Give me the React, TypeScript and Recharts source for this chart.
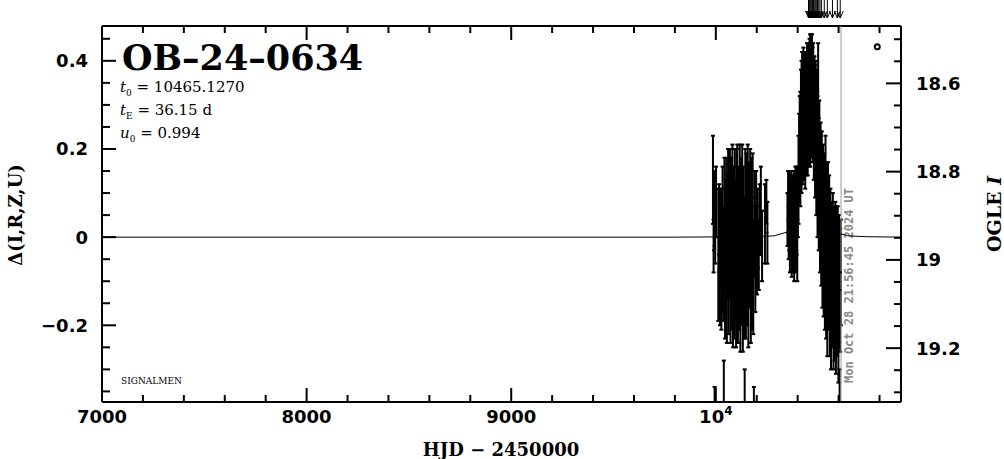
import {
  ComposedChart,
  ErrorBar,
  ReferenceDot,
  ReferenceLine,
  Scatter,
  XAxis,
  YAxis,
} from 'recharts'

const WIDTH = 1004
const HEIGHT = 459
const PLOT_TOP = 26
const PLOT_BOTTOM = 402
const PLOT_H = PLOT_BOTTOM - PLOT_TOP

const X_DOMAIN: [number, number] = [7000, 10905]
const Y_DOMAIN: [number, number] = [-0.374, 0.479]
const I_DOMAIN: [number, number] = [18.47, 19.322]

const X_TICKS = [
  7000, 7200, 7400, 7600, 7800, 8000, 8200, 8400, 8600, 8800, 9000, 9200, 9400,
  9600, 9800, 10000, 10200, 10400, 10600, 10800,
]
const X_MAJOR = [7000, 8000, 9000, 10000]

const Y_TICKS = [
  -0.35, -0.3, -0.25, -0.2, -0.15, -0.1, -0.05, 0, 0.05, 0.1, 0.15, 0.2, 0.25,
  0.3, 0.35, 0.4, 0.45,
]
const Y_MAJOR = [-0.2, 0, 0.2, 0.4]

const I_TICKS = [
  18.5, 18.55, 18.6, 18.65, 18.7, 18.75, 18.8, 18.85, 18.9, 18.95, 19, 19.05,
  19.1, 19.15, 19.2, 19.25, 19.3,
]
const I_MAJOR = [18.6, 18.8, 19, 19.2]

// [HJD-2450000, delta mag, error]
const season2023: [number, number, number][] = [
  [9986, 0.13, 0.1], [9989, -0.02, 0.06], [9991, 0.06, 0.09], [9994, -0.48, 0.14],
  [9997, 0.01, 0.07], [10001, 0.08, 0.08], [10012, -0.04, 0.15], [10016, 0.02, 0.1],
  [10020, -0.08, 0.12], [10024, 0.0, 0.11], [10027, -0.1, 0.11], [10030, -0.03, 0.14],
  [10033, 0.04, 0.12], [10036, -0.06, 0.13], [10039, -0.45, 0.17], [10042, 0.05, 0.13],
  [10045, -0.09, 0.14], [10048, -0.02, 0.15], [10051, 0.06, 0.12], [10054, -0.12, 0.12],
  [10057, 0.0, 0.14], [10060, 0.07, 0.13], [10063, -0.07, 0.15], [10066, -0.01, 0.13],
  [10069, 0.08, 0.12], [10072, -0.11, 0.13], [10075, 0.03, 0.15], [10078, -0.05, 0.16],
  [10081, 0.09, 0.12], [10084, -0.13, 0.12], [10087, 0.02, 0.14], [10090, -0.08, 0.15],
  [10093, 0.07, 0.13], [10096, -0.03, 0.16], [10099, -0.12, 0.13], [10102, 0.05, 0.15],
  [10105, 0.08, 0.13], [10108, -0.1, 0.14], [10111, 0.0, 0.16], [10114, -0.06, 0.15],
  [10117, 0.09, 0.12], [10120, -0.13, 0.13], [10123, 0.04, 0.14], [10126, -0.04, 0.16],
  [10129, 0.08, 0.13], [10132, -0.11, 0.15], [10135, 0.01, 0.15], [10138, -0.07, 0.16],
  [10141, -0.5, 0.2], [10144, 0.06, 0.14], [10147, -0.09, 0.14], [10150, 0.03, 0.16],
  [10153, -0.05, 0.15], [10156, 0.09, 0.12], [10159, -0.12, 0.13], [10162, 0.02, 0.15],
  [10165, -0.02, 0.14], [10168, 0.07, 0.13], [10171, -0.1, 0.14], [10174, 0.04, 0.14],
  [10177, -0.06, 0.15], [10180, 0.06, 0.13], [10183, -0.09, 0.13], [10186, -0.55, 0.21],
  [10189, 0.03, 0.12], [10193, -0.05, 0.12], [10197, 0.05, 0.1], [10201, -0.03, 0.1],
  [10205, 0.02, 0.09], [10210, -0.04, 0.08], [10215, 0.04, 0.08], [10220, 0.06, 0.1],
  [10226, -0.02, 0.08], [10240, 0.03, 0.09], [10247, 0.08, 0.05], [10252, 0.01, 0.07],
]

const season2024: [number, number, number][] = [
  [10350, 0.04, 0.06], [10353, 0.08, 0.07], [10356, 0.01, 0.06], [10359, 0.06, 0.09],
  [10362, -0.01, 0.07], [10365, 0.05, 0.08], [10368, 0.09, 0.06], [10371, 0.0, 0.09],
  [10374, 0.06, 0.08], [10377, 0.02, 0.1], [10380, 0.08, 0.07], [10383, -0.02, 0.08],
  [10386, 0.05, 0.09], [10389, 0.1, 0.06], [10392, 0.01, 0.09], [10395, 0.06, 0.1],
  [10398, -0.03, 0.07], [10401, 0.08, 0.08], [10404, 0.13, 0.1], [10407, 0.18, 0.1],
  [10410, 0.22, 0.1], [10413, 0.2, 0.13], [10416, 0.28, 0.1], [10419, 0.25, 0.15],
  [10422, 0.31, 0.11], [10425, 0.27, 0.15], [10428, 0.31, 0.12], [10431, 0.27, 0.14],
  [10434, 0.31, 0.11], [10437, 0.26, 0.15], [10440, 0.32, 0.1], [10443, 0.28, 0.14],
  [10446, 0.33, 0.11], [10449, 0.29, 0.15], [10452, 0.34, 0.1], [10455, 0.3, 0.14],
  [10458, 0.35, 0.1], [10461, 0.31, 0.15], [10464, 0.36, 0.1], [10467, 0.32, 0.14],
  [10470, 0.35, 0.11], [10473, 0.3, 0.13], [10476, 0.34, 0.1], [10479, 0.27, 0.14],
  [10482, 0.31, 0.1], [10485, 0.24, 0.15], [10488, 0.28, 0.12], [10491, 0.2, 0.15],
  [10494, 0.25, 0.13], [10497, 0.16, 0.16], [10500, 0.33, 0.11], [10503, 0.12, 0.15],
  [10506, 0.18, 0.13], [10509, 0.08, 0.16], [10512, 0.14, 0.12], [10515, 0.04, 0.15],
  [10518, 0.12, 0.12], [10521, 0.0, 0.16], [10524, 0.08, 0.13], [10527, -0.03, 0.15],
  [10530, 0.05, 0.14], [10533, -0.05, 0.16], [10536, 0.1, 0.13], [10539, -0.08, 0.15],
  [10542, 0.02, 0.15], [10545, -0.1, 0.17], [10548, 0.05, 0.12], [10551, -0.07, 0.14],
  [10554, -0.01, 0.15], [10557, -0.12, 0.15], [10560, -0.03, 0.14], [10563, -0.14, 0.16],
  [10566, -0.05, 0.13], [10569, -0.1, 0.15], [10572, -0.02, 0.12], [10575, -0.15, 0.15],
  [10578, -0.07, 0.14], [10581, -0.12, 0.16], [10584, -0.04, 0.12], [10587, -0.16, 0.15],
  [10590, -0.09, 0.16], [10593, -0.13, 0.14], [10596, -0.06, 0.13], [10599, -0.17, 0.16],
  [10602, -0.1, 0.15], [10605, -0.5, 0.2], [10608, -0.12, 0.14], [10611, -0.08, 0.12],
]

// model curve
const modelCurve: [number, number][] = [
  [7000, 0], [9800, 0], [10200, 0.001], [10285, 0.003], [10345, 0.011],
  [10375, 0.026], [10405, 0.07], [10420, 0.118], [10435, 0.19], [10445, 0.25],
  [10455, 0.3], [10465, 0.322], [10475, 0.3], [10485, 0.25], [10495, 0.19],
  [10510, 0.118], [10525, 0.07], [10555, 0.026], [10585, 0.011], [10645, 0.003],
  [10730, 0.001], [10905, 0],
]

const alertTimes = [
  10453, 10457, 10461, 10465, 10469, 10473, 10477, 10481, 10486, 10491, 10497,
  10503, 10509, 10516, 10530, 10545, 10570, 10594, 10608,
]

const NOW_HJD = 10612
const OGLE_MARK: [number, number] = [10789, 0.432]

// error bars are cut at the frame, like the plot window clips them
const toPoints = (rows: [number, number, number][]) =>
  rows.map(([hjd, delta, err]) => {
    const lo = Math.max(delta - err, Y_DOMAIN[0])
    const hi = Math.min(delta + err, Y_DOMAIN[1])
    return { hjd, delta, err: [delta - lo, hi - delta] }
  })

const modelData = modelCurve.map(([hjd, delta]) => ({ hjd, delta }))

const TICK_FONT = {
  fontFamily: 'DejaVu Sans',
  fontWeight: 'bold' as const,
  fontSize: 18,
  fill: '#000',
}

const near = (a: number, list: number[]) => list.some((b) => Math.abs(a - b) < 1e-6)

const BottomTick = (props: any) => {
  const { x, y, payload } = props
  const v = payload.value
  const major = near(v, X_MAJOR)
  const len = major ? 14 : 7
  return (
    <g>
      <line x1={x} y1={y} x2={x} y2={y - len} stroke="#000" strokeWidth={2} />
      <line x1={x} y1={y - PLOT_H} x2={x} y2={y - PLOT_H + len} stroke="#000" strokeWidth={2} />
      {major && (
        <text x={x} y={y + 21} textAnchor="middle" {...TICK_FONT}>
          {v === 10000 ? (
            <>
              10<tspan fontSize={12} dy={-8}>4</tspan>
            </>
          ) : (
            String(v)
          )}
        </text>
      )}
    </g>
  )
}

const LeftTick = (props: any) => {
  const { x, y, payload } = props
  const v = payload.value
  const major = near(v, Y_MAJOR)
  const len = major ? 14 : 8
  const label = v === 0 ? '0' : v < 0 ? `\u2212${Math.abs(v)}` : String(v)
  return (
    <g>
      <line x1={x} y1={y} x2={x + len} y2={y} stroke="#000" strokeWidth={2} />
      {major && (
        <text x={x - 14} y={y + 6.5} textAnchor="end" {...TICK_FONT}>
          {label}
        </text>
      )}
    </g>
  )
}

const RightTick = (props: any) => {
  const { x, y, payload } = props
  const v = payload.value
  const major = near(v, I_MAJOR)
  const len = major ? 15 : 7
  return (
    <g>
      <line x1={x} y1={y} x2={x - len} y2={y} stroke="#000" strokeWidth={2} />
      {major && (
        <text x={x + 15} y={y + 6.5} textAnchor="start" {...TICK_FONT}>
          {String(v)}
        </text>
      )}
    </g>
  )
}

const Dot = (p: any) =>
  p.payload && p.payload.delta < Y_DOMAIN[0] ? (
    <g />
  ) : (
    <rect x={p.cx - 1} y={p.cy - 1} width={2} height={2} fill="#000" />
  )

const NoDot = () => <g />

const AlertArrow = (p: any) => {
  const x = p.cx
  const tip = p.cy - 8
  return (
    <g>
      <line x1={x} y1={tip - 18} x2={x} y2={tip} stroke="#000" strokeWidth={1} />
      <polyline
        points={`${x - 3},${tip - 7} ${x},${tip} ${x + 3},${tip - 7}`}
        fill="none"
        stroke="#000"
        strokeWidth={1}
      />
    </g>
  )
}

const OgleMark = (p: any) => (
  <circle cx={p.cx} cy={p.cy} r={2.5} fill="none" stroke="#000" strokeWidth={2} />
)

const DateLabel = (props: any) => {
  const vb = props.viewBox || {}
  const x = (vb.x ?? 0) + 12
  const y = (vb.y ?? 0) + (vb.height ?? PLOT_H) - 19
  return (
    <text
      transform={`translate(${x},${y}) rotate(-90)`}
      fontFamily="DejaVu Sans Mono"
      fontWeight="bold"
      fontSize={12}
      fill="#8a8a8a"
    >
      Mon Oct 28 21:56:45 2024 UT
    </text>
  )
}

export default function App() {
  const serif = 'DejaVu Serif'
  return (
    <div
      style={{
        position: 'absolute',
        left: 0,
        top: 0,
        width: WIDTH,
        height: HEIGHT,
        background: '#fff',
      }}
    >
      <ComposedChart
        width={WIDTH}
        height={HEIGHT}
        margin={{ top: PLOT_TOP, right: 0, bottom: 0, left: 0 }}
      >
        <XAxis
          type="number"
          dataKey="hjd"
          domain={X_DOMAIN}
          ticks={X_TICKS}
          allowDataOverflow
          height={HEIGHT - PLOT_BOTTOM}
          tickLine={false}
          tickSize={0}
          tickMargin={0}
          tick={<BottomTick />}
          interval={0}
          axisLine={{ stroke: '#000', strokeWidth: 2 }}
        />
        <YAxis
          yAxisId="left"
          type="number"
          dataKey="delta"
          domain={Y_DOMAIN}
          ticks={Y_TICKS}
          allowDataOverflow
          width={102}
          tickLine={false}
          tickSize={0}
          tickMargin={0}
          tick={<LeftTick />}
          interval={0}
          axisLine={{ stroke: '#000', strokeWidth: 2 }}
        />
        <YAxis
          yAxisId="right"
          orientation="right"
          type="number"
          domain={I_DOMAIN}
          ticks={I_TICKS}
          reversed
          allowDataOverflow
          width={103}
          tickLine={false}
          tickSize={0}
          tickMargin={0}
          tick={<RightTick />}
          interval={0}
          axisLine={{ stroke: '#000', strokeWidth: 2 }}
        />
        <ReferenceLine yAxisId="left" y={Y_DOMAIN[1]} stroke="#000" strokeWidth={2} />
        <Scatter
          yAxisId="left"
          data={modelData}
          dataKey="delta"
          line={{ stroke: '#000', strokeWidth: 1 }}
          shape={<NoDot />}
          isAnimationActive={false}
        />
        <Scatter
          yAxisId="left"
          data={toPoints(season2023)}
          dataKey="delta"
          shape={<Dot />}
          isAnimationActive={false}
        >
          <ErrorBar dataKey="err" direction="y" width={2} stroke="#000" strokeWidth={2} />
        </Scatter>
        <Scatter
          yAxisId="left"
          data={toPoints(season2024)}
          dataKey="delta"
          shape={<Dot />}
          isAnimationActive={false}
        >
          <ErrorBar dataKey="err" direction="y" width={2} stroke="#000" strokeWidth={2} />
        </Scatter>
        <ReferenceLine
          yAxisId="left"
          x={NOW_HJD}
          stroke="#9a9a9a"
          strokeWidth={1}
          label={<DateLabel />}
        />
        <ReferenceDot
          yAxisId="left"
          x={OGLE_MARK[0]}
          y={OGLE_MARK[1]}
          r={3}
          shape={<OgleMark />}
        />
        {alertTimes.map((t) => (
          <ReferenceDot
            key={t}
            yAxisId="left"
            x={t}
            y={Y_DOMAIN[1]}
            r={1}
            ifOverflow="visible"
            shape={<AlertArrow />}
          />
        ))}
      </ComposedChart>
      <svg
        width={WIDTH}
        height={HEIGHT}
        style={{ position: 'absolute', left: 0, top: 0, pointerEvents: 'none' }}
      >
        <text x={122} y={70} fontFamily={serif} fontWeight="bold" fontSize={35}>
          OB{'\u2013'}24{'\u2013'}0634
        </text>
        <text x={120} y={92} fontFamily={serif} fontSize={15}>
          <tspan fontStyle="italic">t</tspan>
          <tspan fontSize={9} dy={4}>0</tspan>
          <tspan dy={-4}> = 10465.1270</tspan>
        </text>
        <text x={120} y={115} fontFamily={serif} fontSize={15}>
          <tspan fontStyle="italic">t</tspan>
          <tspan fontSize={9} dy={4}>E</tspan>
          <tspan dy={-4}> = 36.15 d</tspan>
        </text>
        <text x={120} y={138} fontFamily={serif} fontSize={15}>
          <tspan fontStyle="italic">u</tspan>
          <tspan fontSize={9} dy={4}>0</tspan>
          <tspan dy={-4}> = 0.994</tspan>
        </text>
        <text x={121} y={384} fontFamily={serif} fontSize={9}>
          SIGNALMEN
        </text>
        <text
          transform="translate(22,215) rotate(-90)"
          textAnchor="middle"
          fontFamily={serif}
          fontWeight="bold"
          fontSize={18}
        >
          {'\u0394(I,R,Z,U)'}
        </text>
        <text
          transform="translate(1001,214) rotate(-90)"
          textAnchor="middle"
          fontFamily={serif}
          fontWeight="bold"
          fontSize={19}
        >
          OGLE <tspan fontStyle="italic">I</tspan>
        </text>
        <text
          x={501}
          y={456}
          textAnchor="middle"
          fontFamily={serif}
          fontWeight="bold"
          fontSize={18}
        >
          HJD {'\u2212'} 2450000
        </text>
      </svg>
    </div>
  )
}
